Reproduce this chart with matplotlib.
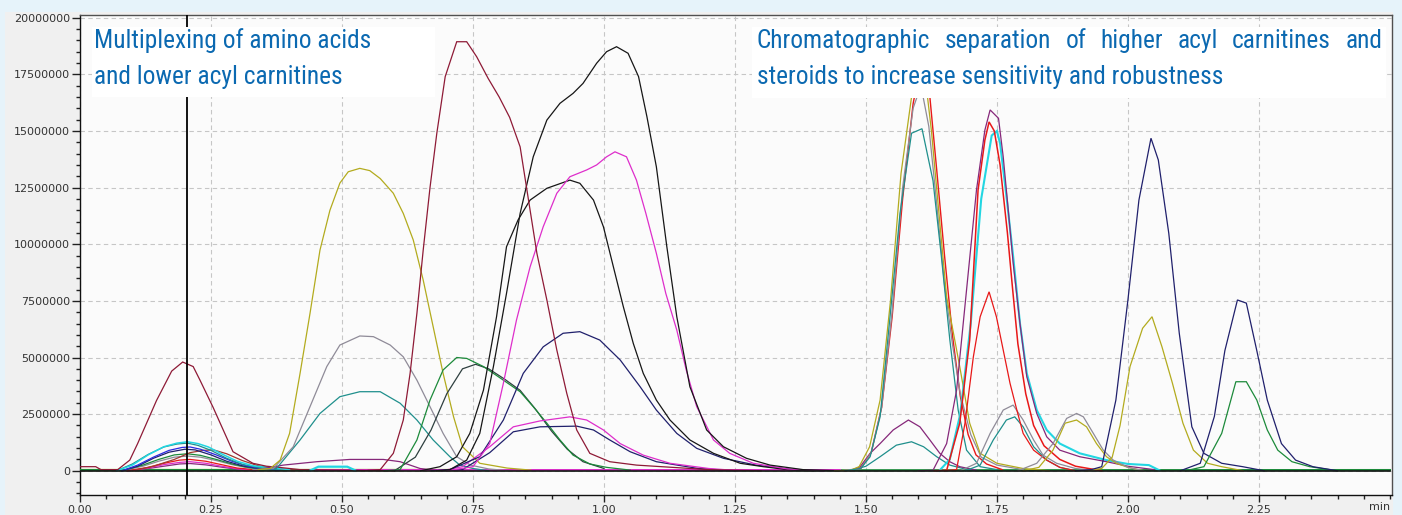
import matplotlib
matplotlib.use("Agg")
import matplotlib.pyplot as plt
from matplotlib import font_manager as fm
from matplotlib.patches import Rectangle
from matplotlib.ticker import FixedLocator, MultipleLocator

# ---------------- data (time in min, intensity in millions of counts) ----------------
SCALE = 1e6

x_ticks = [0.00, 0.25, 0.50, 0.75, 1.00, 1.25, 1.50, 1.75, 2.00, 2.25]
x_tick_labels = ["0.00", "0.25", "0.50", "0.75", "1.00", "1.25", "1.50", "1.75", "2.00", "2.25"]
y_ticks = [0, 2500000, 5000000, 7500000, 10000000, 12500000, 15000000, 17500000, 20000000]
y_tick_labels = ["0", "2500000", "5000000", "7500000", "10000000", "12500000",
                 "15000000", "17500000", "20000000"]
cursor_time = 0.205

# baselines
base_black_t = [0.0, 2.5]
base_black_y = [0.0, 0.0]
base_green_t = [0.0, 0.6, 1.3, 2.5]
base_green_y = [0.03, 0.03, 0.02, 0.03]
base_olive_t = [0.0, 0.75]
base_olive_y = [0.05, 0.05]
base_magenta_t = [0.45, 1.45]
base_magenta_y = [0.02, 0.02]

# --- cluster at 0.2 min ---
maroon_020_t = [0.0, 0.03, 0.04, 0.072, 0.095, 0.11, 0.146, 0.175, 0.196, 0.216, 0.229, 0.254, 0.292, 0.33, 0.356, 0.38, 0.42, 0.6]
maroon_020_y = [0.18, 0.18, 0.05, 0.05, 0.47, 1.2, 3.1, 4.4, 4.8, 4.6, 4.0, 2.8, 0.84, 0.33, 0.2, 0.15, 0.05, 0.0]
cyan_020_t = [0.07, 0.1, 0.13, 0.16, 0.185, 0.205, 0.225, 0.245, 0.27, 0.3, 0.33, 0.36, 0.4]
cyan_020_y = [0.0, 0.25, 0.7, 1.06, 1.22, 1.28, 1.2, 1.05, 0.75, 0.42, 0.22, 0.14, 0.05]
teal_020_t = [0.07, 0.1, 0.13, 0.16, 0.185, 0.205, 0.225, 0.25, 0.28, 0.31, 0.34, 0.38]
teal_020_y = [0.0, 0.3, 0.72, 1.05, 1.18, 1.22, 1.12, 0.9, 0.55, 0.28, 0.15, 0.05]
blue_020_t = [0.08, 0.11, 0.14, 0.17, 0.195, 0.21, 0.23, 0.26, 0.29, 0.32, 0.35, 0.38]
blue_020_y = [0.0, 0.25, 0.6, 0.9, 1.03, 1.05, 0.95, 0.7, 0.42, 0.2, 0.1, 0.03]
navy_020_t = [0.08, 0.11, 0.14, 0.17, 0.2, 0.22, 0.25, 0.28, 0.31, 0.34, 0.38]
navy_020_y = [0.0, 0.2, 0.55, 0.82, 0.95, 0.92, 0.7, 0.42, 0.22, 0.1, 0.02]
brown_025_t = [0.1, 0.14, 0.18, 0.21, 0.235, 0.255, 0.28, 0.31, 0.34, 0.37, 0.41]
brown_025_y = [0.0, 0.2, 0.5, 0.8, 0.9, 0.92, 0.75, 0.45, 0.22, 0.1, 0.03]
green_020_t = [0.08, 0.12, 0.15, 0.18, 0.205, 0.23, 0.26, 0.29, 0.32, 0.36]
green_020_y = [0.0, 0.25, 0.5, 0.7, 0.75, 0.68, 0.5, 0.3, 0.15, 0.05]
gray_020_t = [0.08, 0.12, 0.15, 0.18, 0.205, 0.23, 0.26, 0.29, 0.32, 0.36]
gray_020_y = [0.0, 0.2, 0.42, 0.6, 0.65, 0.6, 0.45, 0.27, 0.13, 0.04]
red_020_t = [0.09, 0.13, 0.16, 0.19, 0.21, 0.24, 0.27, 0.3, 0.34]
red_020_y = [0.0, 0.15, 0.33, 0.47, 0.5, 0.42, 0.27, 0.12, 0.03]
magenta_020_t = [0.09, 0.13, 0.16, 0.19, 0.21, 0.24, 0.27, 0.3, 0.34]
magenta_020_y = [0.0, 0.12, 0.27, 0.37, 0.4, 0.33, 0.2, 0.09, 0.02]
purple_020_t = [0.09, 0.13, 0.16, 0.19, 0.21, 0.24, 0.27, 0.3, 0.34]
purple_020_y = [0.0, 0.1, 0.2, 0.3, 0.32, 0.26, 0.16, 0.07, 0.02]

# --- 0.5 - 0.75 min ---
olive_054_t = [0.34, 0.363, 0.382, 0.40, 0.42, 0.439, 0.458, 0.477, 0.496, 0.512, 0.534, 0.553, 0.573, 0.598,
               0.617, 0.636, 0.655, 0.674, 0.693, 0.713, 0.73, 0.763, 0.815, 0.86]
olive_054_y = [0.05, 0.1, 0.47, 1.65, 4.3, 6.95, 9.74, 11.5, 12.7, 13.2, 13.35, 13.25, 12.9, 12.25,
               11.36, 10.19, 8.42, 6.36, 4.3, 2.38, 1.06, 0.33, 0.12, 0.03]
gray_054_t = [0.33, 0.369, 0.407, 0.439, 0.471, 0.496, 0.534, 0.56, 0.592, 0.617, 0.643, 0.668, 0.693, 0.719, 0.745, 0.78, 0.82]
gray_054_y = [0.05, 0.1, 1.06, 2.83, 4.6, 5.55, 5.95, 5.92, 5.55, 5.03, 4.0, 2.83, 1.65, 0.62, 0.25, 0.08, 0.0]
teal_054_t = [0.34, 0.375, 0.42, 0.458, 0.496, 0.534, 0.573, 0.611, 0.643, 0.674, 0.706, 0.725, 0.75, 0.78]
teal_054_y = [0.05, 0.1, 1.36, 2.53, 3.27, 3.49, 3.49, 2.98, 2.24, 1.36, 0.62, 0.25, 0.1, 0.0]
purple_055_t = [0.35, 0.388, 0.452, 0.515, 0.579, 0.611, 0.649, 0.68]
purple_055_y = [0.1, 0.25, 0.4, 0.5, 0.5, 0.4, 0.1, 0.02]
cyan_049_t = [0.44, 0.455, 0.51, 0.525]
cyan_049_y = [0.02, 0.18, 0.18, 0.02]
maroon_073_t = [0.55, 0.573, 0.598, 0.617, 0.63, 0.643, 0.655, 0.668, 0.681, 0.697, 0.719, 0.738, 0.757, 0.779,
                0.80, 0.82, 0.84, 0.856, 0.872, 0.891, 0.91, 0.929, 0.948, 0.973, 1.011, 1.062, 1.11, 1.2, 1.3]
maroon_073_y = [0.02, 0.05, 0.77, 2.24, 4.3, 6.95, 9.74, 12.5, 14.9, 17.4, 18.94, 18.94, 18.28, 17.32,
                16.5, 15.6, 14.3, 11.95, 9.6, 7.54, 5.33, 3.42, 1.8, 0.77, 0.4, 0.25, 0.18, 0.05, 0.0]
green_073_t = [0.58, 0.611, 0.643, 0.668, 0.693, 0.719, 0.738, 0.77, 0.808, 0.84, 0.865, 0.891, 0.916, 0.941, 0.973, 1.005, 1.05]
green_073_y = [0.0, 0.05, 1.36, 3.12, 4.45, 5.0, 4.96, 4.6, 4.0, 3.49, 2.83, 2.1, 1.36, 0.69, 0.3, 0.15, 0.03]
slate_076_t = [0.6, 0.64, 0.67, 0.7, 0.73, 0.755, 0.78, 0.81, 0.84, 0.87, 0.9, 0.93, 0.96, 1.0]
slate_076_y = [0.0, 0.6, 1.8, 3.4, 4.5, 4.7, 4.5, 4.05, 3.55, 2.7, 1.75, 0.95, 0.4, 0.1]

# --- 0.75 - 1.35 min ---
black_094_t = [0.65, 0.687, 0.719, 0.744, 0.77, 0.795, 0.814, 0.836, 0.859, 0.891, 0.935, 0.954, 0.98, 0.999,
               1.018, 1.037, 1.056, 1.075, 1.10, 1.126, 1.164, 1.209, 1.26, 1.304, 1.35, 1.4]
black_094_y = [0.0, 0.18, 0.62, 1.65, 3.56, 6.8, 9.89, 11.07, 11.95, 12.47, 12.83, 12.69, 11.95, 10.77,
               9.0, 7.24, 5.62, 4.3, 3.12, 2.24, 1.36, 0.77, 0.33, 0.18, 0.05, 0.0]
black_103_t = [0.68, 0.706, 0.738, 0.763, 0.789, 0.814, 0.84, 0.865, 0.891, 0.916, 0.941, 0.96, 0.986, 1.005,
               1.024, 1.046, 1.066, 1.082, 1.10, 1.12, 1.139, 1.164, 1.196, 1.228, 1.272, 1.317, 1.38, 1.45]
black_103_y = [0.0, 0.05, 0.47, 1.65, 4.6, 7.83, 11.36, 13.86, 15.48, 16.22, 16.66, 17.1, 17.99, 18.5,
               18.72, 18.43, 17.4, 15.63, 13.42, 9.89, 6.8, 3.71, 1.8, 1.06, 0.55, 0.25, 0.05, 0.0]
magenta_103_t = [0.7, 0.75, 0.782, 0.808, 0.833, 0.859, 0.884, 0.91, 0.935, 0.967, 0.986, 1.005, 1.021, 1.043,
                 1.062, 1.08, 1.10, 1.118, 1.139, 1.157, 1.177, 1.209, 1.24, 1.285, 1.35, 1.42]
magenta_103_y = [0.0, 0.18, 1.2, 3.86, 6.65, 9.0, 10.77, 12.25, 12.98, 13.28, 13.5, 13.86, 14.08, 13.86,
                 12.83, 11.36, 9.6, 7.83, 6.21, 4.45, 2.83, 1.36, 0.77, 0.33, 0.08, 0.0]
navy_095_t = [0.67, 0.706, 0.763, 0.808, 0.846, 0.884, 0.922, 0.954, 0.992, 1.031, 1.069, 1.10, 1.139, 1.177, 1.228, 1.29, 1.36, 1.42]
navy_095_y = [0.0, 0.05, 0.62, 2.24, 4.3, 5.47, 6.07, 6.14, 5.77, 4.89, 3.71, 2.68, 1.65, 0.99, 0.55, 0.25, 0.05, 0.0]
magenta_lo_t = [0.69, 0.73, 0.782, 0.827, 0.878, 0.935, 0.967, 0.999, 1.031, 1.075, 1.126, 1.2, 1.26]
magenta_lo_y = [0.0, 0.18, 1.06, 1.94, 2.2, 2.38, 2.24, 1.8, 1.2, 0.69, 0.33, 0.1, 0.0]
navy_lo_t = [0.69, 0.73, 0.782, 0.827, 0.878, 0.948, 0.98, 1.011, 1.05, 1.10, 1.18, 1.25]
navy_lo_y = [0.0, 0.05, 0.8, 1.72, 1.94, 1.97, 1.8, 1.36, 0.84, 0.4, 0.1, 0.0]

# --- 1.5 - 1.7 min ---
olive_160_t = [1.44, 1.47, 1.487, 1.507, 1.527, 1.547, 1.567, 1.587, 1.6, 1.612, 1.625, 1.64, 1.654, 1.679, 1.698, 1.718, 1.75, 1.8, 1.85]
olive_160_y = [0.0, 0.02, 0.18, 1.06, 3.12, 7.54, 13.13, 16.5, 17.8, 17.6, 15.0, 11.2, 7.68, 4.6, 2.1, 0.77, 0.33, 0.1, 0.0]
gray_160_t = [1.45, 1.49, 1.51, 1.53, 1.55, 1.57, 1.59, 1.605, 1.62, 1.635, 1.65, 1.665, 1.68, 1.7, 1.72, 1.75, 1.8]
gray_160_y = [0.0, 0.1, 0.8, 2.8, 7.0, 12.5, 16.0, 17.0, 15.2, 11.8, 8.2, 5.6, 3.4, 1.6, 0.6, 0.25, 0.05]
red_161_t = [1.46, 1.49, 1.51, 1.53, 1.55, 1.57, 1.59, 1.61, 1.622, 1.635, 1.65, 1.665, 1.68, 1.695, 1.71, 1.73, 1.76]
red_161_y = [0.0, 0.1, 0.8, 2.8, 6.8, 12.0, 16.2, 18.6, 16.5, 13.3, 9.5, 6.0, 3.3, 1.6, 0.7, 0.3, 0.05]
teal_160_t = [1.46, 1.49, 1.508, 1.527, 1.546, 1.565, 1.587, 1.607, 1.628, 1.644, 1.66, 1.676, 1.692, 1.718, 1.75]
teal_160_y = [0.0, 0.1, 0.62, 2.38, 6.8, 11.36, 14.9, 15.1, 12.8, 9.45, 5.8, 2.68, 0.91, 0.18, 0.05]
purple_158_t = [1.47, 1.489, 1.508, 1.527, 1.552, 1.581, 1.603, 1.622, 1.641, 1.66, 1.679, 1.71]
purple_158_y = [0.0, 0.18, 0.77, 1.2, 1.8, 2.24, 1.94, 1.36, 0.77, 0.4, 0.18, 0.03]
teal_158_t = [1.47, 1.5, 1.527, 1.558, 1.587, 1.61, 1.635, 1.66, 1.685, 1.71]
teal_158_y = [0.0, 0.2, 0.62, 1.13, 1.28, 1.06, 0.62, 0.25, 0.1, 0.02]

# --- 1.7 - 1.95 min ---
purple_174_t = [1.6, 1.628, 1.654, 1.673, 1.692, 1.711, 1.727, 1.737, 1.753, 1.762, 1.771, 1.781, 1.794, 1.807,
                1.826, 1.845, 1.87, 1.908, 1.959, 2.0, 2.05]
purple_174_y = [0.0, 0.02, 1.2, 3.56, 7.98, 12.4, 15.04, 15.93, 15.56, 13.86, 11.66, 9.16, 6.5, 4.15,
                2.53, 1.5, 0.91, 0.62, 0.4, 0.2, 0.05]
red_174_t = [1.63, 1.654, 1.679, 1.698, 1.714, 1.727, 1.735, 1.745, 1.756, 1.77, 1.78, 1.79, 1.805, 1.82, 1.84, 1.87, 1.9, 1.95]
red_174_y = [0.0, 0.02, 2.1, 5.77, 12.4, 14.6, 15.4, 15.0, 13.5, 10.5, 8.0, 5.6, 3.4, 2.0, 1.1, 0.5, 0.2, 0.0]
cyan_175_t = [1.64, 1.66, 1.68, 1.70, 1.72, 1.74, 1.75, 1.756, 1.769, 1.781, 1.794, 1.807, 1.826, 1.845, 1.87,
              1.908, 1.959, 2.0, 2.04, 2.06]
cyan_175_y = [0.0, 0.5, 2.5, 6.5, 12.0, 14.8, 15.0, 14.45, 11.95, 9.45, 6.5, 4.3, 2.68, 1.8, 1.2,
              0.77, 0.47, 0.3, 0.25, 0.02]
red_sm_174_t = [1.65, 1.673, 1.689, 1.705, 1.718, 1.735, 1.749, 1.762, 1.775, 1.788, 1.80, 1.82, 1.845, 1.87, 1.9]
red_sm_174_y = [0.0, 0.05, 2.1, 5.03, 6.8, 7.9, 6.8, 5.33, 3.86, 2.68, 1.65, 0.91, 0.47, 0.15, 0.0]
gray_178_t = [1.68, 1.711, 1.737, 1.762, 1.781, 1.80, 1.82, 1.838, 1.864, 1.9, 1.94]
gray_178_y = [0.0, 0.33, 1.65, 2.68, 2.9, 2.24, 1.36, 0.69, 0.33, 0.1, 0.0]
teal_178_t = [1.69, 1.718, 1.743, 1.768, 1.784, 1.80, 1.82, 1.845, 1.87, 1.9]
teal_178_y = [0.0, 0.25, 1.36, 2.24, 2.38, 1.94, 1.06, 0.47, 0.15, 0.0]
gray_190_t = [1.79, 1.826, 1.857, 1.883, 1.902, 1.915, 1.934, 1.953, 1.972, 2.0, 2.03]
gray_190_y = [0.0, 0.33, 1.2, 2.31, 2.53, 2.38, 1.65, 0.91, 0.47, 0.15, 0.0]
olive_189_t = [1.8, 1.83, 1.857, 1.88, 1.902, 1.921, 1.94, 1.959, 1.978, 2.0, 2.03]
olive_189_y = [0.0, 0.15, 0.91, 2.1, 2.24, 1.94, 1.2, 0.62, 0.33, 0.15, 0.0]

# --- 2.0 - 2.35 min ---
navy_205_t = [1.9, 1.93, 1.95, 1.977, 2.0, 2.021, 2.044, 2.058, 2.078, 2.098, 2.122, 2.145, 2.179, 2.219, 2.26]
navy_205_y = [0.0, 0.05, 0.18, 3.12, 7.54, 11.95, 14.68, 13.72, 10.48, 6.07, 1.94, 0.77, 0.33, 0.18, 0.0]
olive_205_t = [1.92, 1.95, 1.97, 1.985, 2.004, 2.028, 2.046, 2.065, 2.085, 2.105, 2.125, 2.152, 2.179, 2.22]
olive_205_y = [0.0, 0.1, 0.6, 2.0, 4.6, 6.29, 6.8, 5.47, 3.86, 2.1, 0.91, 0.33, 0.18, 0.0]
navy_222_t = [2.1, 2.138, 2.165, 2.185, 2.209, 2.226, 2.246, 2.266, 2.293, 2.32, 2.353, 2.4]
navy_222_y = [0.0, 0.33, 2.4, 5.3, 7.54, 7.4, 5.3, 3.12, 1.2, 0.47, 0.18, 0.0]
green_222_t = [2.11, 2.145, 2.179, 2.206, 2.226, 2.246, 2.266, 2.286, 2.313, 2.347, 2.4]
green_222_y = [0.0, 0.18, 1.65, 3.93, 3.93, 3.12, 1.8, 0.91, 0.4, 0.18, 0.0]

note_left = ["Multiplexing of amino acids", "and lower acyl carnitines"]
note_right = ["Chromatographic separation of higher acyl carnitines and",
              "steroids to increase sensitivity and robustness"]

# ---------------- styling ----------------
C_MAROON = "#8e1a36"
C_OLIVE = "#b3ab1e"
C_GRAY = "#8f8b98"
C_TEAL = "#1f8f8c"
C_GREEN = "#1c8a3a"
C_BLACK = "#161616"
C_MAGENTA = "#de2ecb"
C_NAVY = "#20206c"
C_BLUE = "#2a2ae0"
C_PURPLE = "#86287a"
C_RED = "#e81818"
C_CYAN = "#22d6e2"
C_BROWN = "#a03a30"
C_SLATE = "#2e3f3f"

traces = [
    (base_olive_t, base_olive_y, C_OLIVE, 1.6),
    (base_green_t, base_green_y, C_GREEN, 1.6),
    (base_magenta_t, base_magenta_y, C_MAGENTA, 1.4),
    (purple_020_t, purple_020_y, C_PURPLE, 0.9),
    (magenta_020_t, magenta_020_y, C_MAGENTA, 0.9),
    (red_020_t, red_020_y, C_RED, 0.9),
    (gray_020_t, gray_020_y, C_GRAY, 0.9),
    (green_020_t, green_020_y, C_GREEN, 0.9),
    (brown_025_t, brown_025_y, C_BROWN, 0.9),
    (navy_020_t, navy_020_y, C_NAVY, 0.9),
    (blue_020_t, blue_020_y, C_BLUE, 0.9),
    (teal_020_t, teal_020_y, C_TEAL, 0.9),
    (cyan_020_t, cyan_020_y, C_CYAN, 1.1),
    (maroon_020_t, maroon_020_y, C_MAROON, 0.9),
    (purple_055_t, purple_055_y, C_PURPLE, 0.9),
    (cyan_049_t, cyan_049_y, C_CYAN, 1.6),
    (teal_054_t, teal_054_y, C_TEAL, 0.9),
    (gray_054_t, gray_054_y, C_GRAY, 0.9),
    (olive_054_t, olive_054_y, C_OLIVE, 0.9),
    (slate_076_t, slate_076_y, C_SLATE, 0.9),
    (green_073_t, green_073_y, C_GREEN, 0.9),
    (navy_lo_t, navy_lo_y, C_NAVY, 0.9),
    (magenta_lo_t, magenta_lo_y, C_MAGENTA, 0.9),
    (navy_095_t, navy_095_y, C_NAVY, 0.9),
    (black_094_t, black_094_y, C_BLACK, 0.9),
    (magenta_103_t, magenta_103_y, C_MAGENTA, 0.9),
    (black_103_t, black_103_y, C_BLACK, 0.9),
    (maroon_073_t, maroon_073_y, C_MAROON, 0.9),
    (teal_158_t, teal_158_y, C_TEAL, 0.9),
    (purple_158_t, purple_158_y, C_PURPLE, 0.9),
    (red_161_t, red_161_y, C_RED, 1.0),
    (gray_160_t, gray_160_y, C_GRAY, 0.9),
    (olive_160_t, olive_160_y, C_OLIVE, 0.9),
    (teal_160_t, teal_160_y, C_TEAL, 0.9),
    (teal_178_t, teal_178_y, C_TEAL, 0.9),
    (gray_178_t, gray_178_y, C_GRAY, 0.9),
    (red_sm_174_t, red_sm_174_y, C_RED, 0.9),
    (cyan_175_t, cyan_175_y, C_CYAN, 1.5),
    (red_174_t, red_174_y, C_RED, 1.1),
    (purple_174_t, purple_174_y, C_PURPLE, 0.9),
    (olive_189_t, olive_189_y, C_OLIVE, 0.9),
    (gray_190_t, gray_190_y, C_GRAY, 0.9),
    (olive_205_t, olive_205_y, C_OLIVE, 0.9),
    (navy_205_t, navy_205_y, C_NAVY, 0.9),
    (green_222_t, green_222_y, C_GREEN, 0.9),
    (navy_222_t, navy_222_y, C_NAVY, 0.9),
    (base_black_t, base_black_y, C_BLACK, 1.2),
]

W, H = 1402, 515
fig = plt.figure(figsize=(W / 100, H / 100), dpi=100)
fig.patch.set_facecolor("#e6f3fa")


def fx(px):
    return px / W


def fy(py):
    return 1 - py / H


# gray inner panel
fig.add_artist(Rectangle((fx(5), 0), fx(1393) - fx(5), fy(12), transform=fig.transFigure,
                         facecolor="#f0f0f0", edgecolor="none", zorder=-10))

ax = fig.add_axes([fx(80), fy(495), fx(1392) - fx(80), fy(15) - fy(495)])
ax.set_facecolor("#fbfbfb")

for t, y, c, lw in traces:
    ax.plot(t, [v * SCALE for v in y], color=c, linewidth=lw, solid_joinstyle="miter", zorder=3)

ax.axvline(cursor_time, color="#000000", linewidth=1.3, zorder=4)

ax.set_xlim(0, 2.504)
ax.set_ylim(-1.07e6, 20.12e6)
ax.xaxis.set_major_locator(FixedLocator(x_ticks))
ax.set_xticklabels(x_tick_labels)
ax.xaxis.set_minor_locator(MultipleLocator(0.05))
ax.yaxis.set_major_locator(FixedLocator(y_ticks))
ax.set_yticklabels(y_tick_labels)
ax.yaxis.set_minor_locator(MultipleLocator(500000))

ax.grid(True, which="major", color="#c6c6c6", linestyle=(0, (4, 3)), linewidth=0.8, zorder=1)
ax.set_axisbelow(True)

ax.tick_params(axis="both", which="major", direction="out", length=6, width=1, color="#222222",
               labelsize=8, labelcolor="#333333", pad=1)
ax.tick_params(axis="both", which="minor", direction="out", length=3, width=1, color="#222222")
ax.tick_params(axis="x", which="major", length=5, pad=2)
for lab in ax.get_xticklabels() + ax.get_yticklabels():
    lab.set_fontfamily("DejaVu Sans")

for s in ["left", "bottom"]:
    ax.spines[s].set_color("#111111")
    ax.spines[s].set_linewidth(1.0)
for s in ["top", "right"]:
    ax.spines[s].set_color("#505050")
    ax.spines[s].set_linewidth(1.0)

fig.text(fx(1380), fy(507), "min", ha="center", va="center", fontsize=8, color="#333333",
         family="DejaVu Sans")

# ---------------- annotation boxes ----------------
def font_ok(name):
    try:
        p = fm.findfont(fm.FontProperties(family=name), fallback_to_default=False)
        return p
    except Exception:
        return None


box_font = "DejaVu Sans"
for cand in ["Liberation Sans Narrow", "Roboto Condensed", "Open Sans Condensed", "Lato", "Open Sans"]:
    if font_ok(cand):
        box_font = cand
        break

TEXT_C = "#0b69b1"
fig.add_artist(Rectangle((fx(92), fy(97)), fx(435) - fx(92), fy(27) - fy(97), transform=fig.transFigure,
                         facecolor="white", edgecolor="none", zorder=20))
fig.add_artist(Rectangle((fx(752), fy(98)), fx(1386) - fx(752), fy(27) - fy(98), transform=fig.transFigure,
                         facecolor="white", edgecolor="none", zorder=20))

renderer = fig.canvas.get_renderer()


def width_px(s, size):
    t = fig.text(0, 0, s, fontsize=size, family=box_font)
    w = t.get_window_extent(renderer).width
    t.remove()
    return w


ref = 20
s1 = ref * 280 / width_px(note_left[0], ref)
s2 = ref * 461 / width_px(note_right[1], ref)
size = min(0.5 * (s1 + s2), 19)

fig.text(fx(94), fy(48), note_left[0], fontsize=size, family=box_font, color=TEXT_C, va="baseline", zorder=21)
fig.text(fx(94), fy(84), note_left[1], fontsize=size, family=box_font, color=TEXT_C, va="baseline", zorder=21)

# justified first line of the right note
words = note_right[0].split(" ")
ww = [width_px(w, size) for w in words]
left_px, right_px = 757, 1382
gap = (right_px - left_px - sum(ww)) / (len(words) - 1)
xpos = left_px
for w, wpx in zip(words, ww):
    fig.text(fx(xpos), fy(48), w, fontsize=size, family=box_font, color=TEXT_C, va="baseline", zorder=21)
    xpos += wpx + gap
fig.text(fx(757), fy(84), note_right[1], fontsize=size, family=box_font, color=TEXT_C, va="baseline", zorder=21)

fig.savefig("out.png", dpi=100, facecolor=fig.get_facecolor())
